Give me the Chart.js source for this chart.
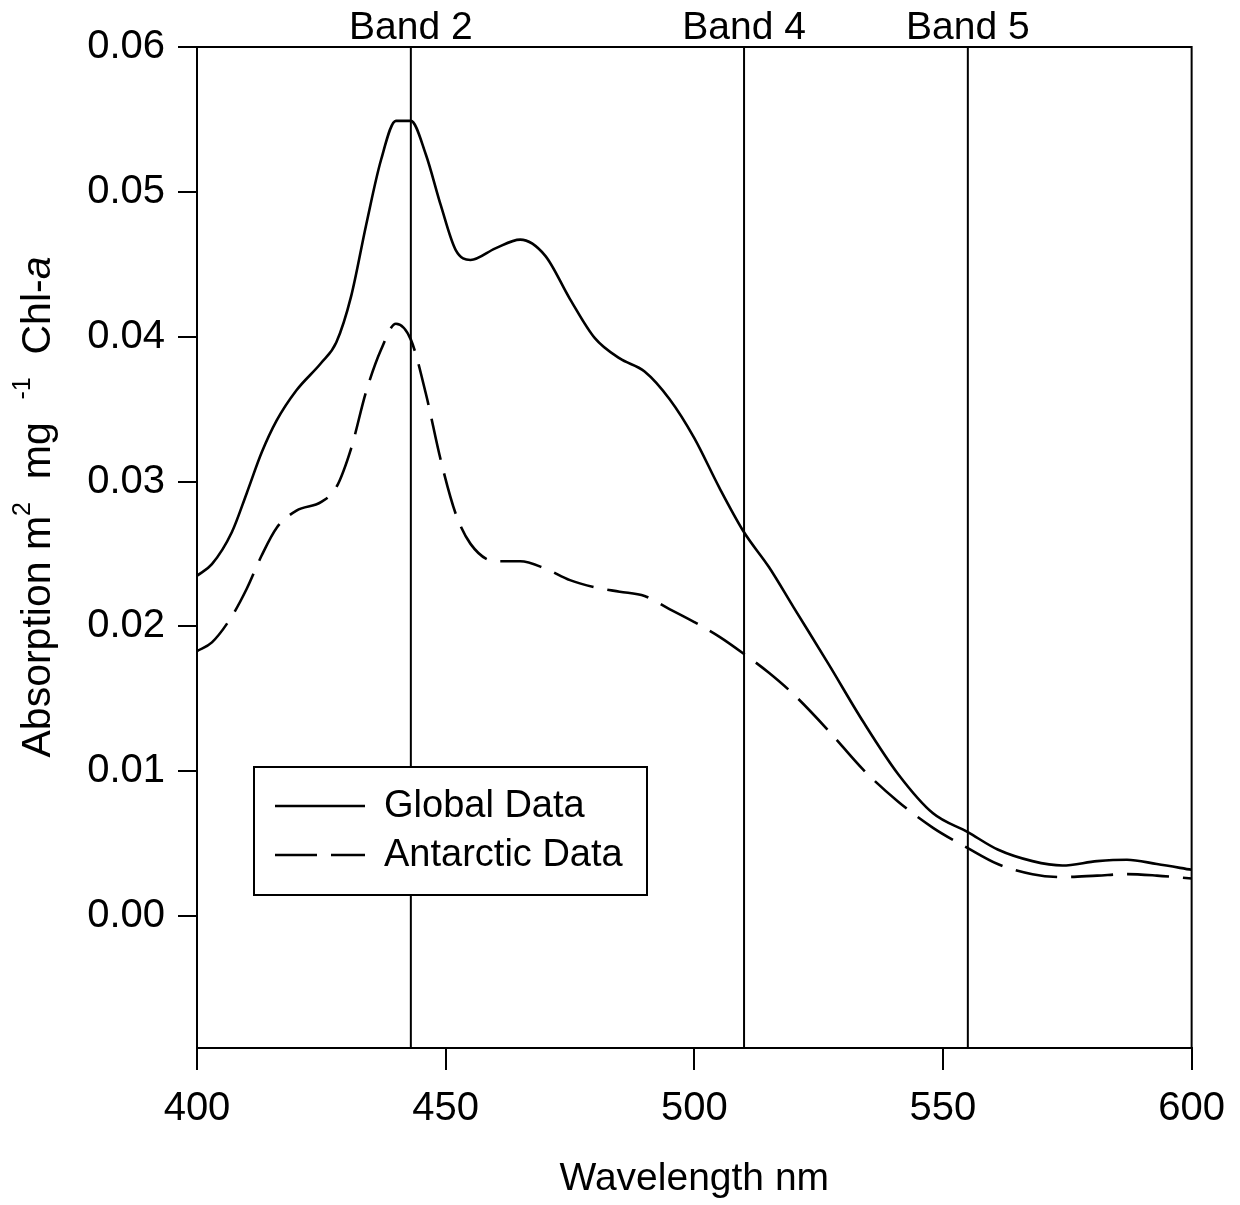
<!DOCTYPE html>
<html>
<head>
<meta charset="utf-8">
<script src="https://cdn.jsdelivr.net/npm/chart.js@4.4.1/dist/chart.umd.min.js"></script>
<style>
  html, body { margin: 0; padding: 0; background: #fff; }
  #wrap { width: 1240px; height: 1205px; position: relative; }
</style>
</head>
<body>
<div id="wrap"><canvas id="absChart"></canvas></div>
<script>
// Longitudes de onda (nm)
const wavelengths = [400, 403, 407, 410, 413, 416, 420, 425, 428, 431, 434, 437, 440, 443, 446, 449, 452, 455, 460, 465, 470, 475, 480, 485, 490, 495, 500, 505, 510, 515, 520, 527, 534, 541, 548, 555, 561, 568, 574, 581, 587, 593, 600];

// Absorción específica (m2 mg-1 Chl-a)
const globalData = [0.0235, 0.0243, 0.0265, 0.0292, 0.0320, 0.0342, 0.0363, 0.0382, 0.0396, 0.0428, 0.0477, 0.0522, 0.0549, 0.0549, 0.0526, 0.0491, 0.0460, 0.0453, 0.0461, 0.0467, 0.0456, 0.0426, 0.0399, 0.0385, 0.0376, 0.0357, 0.0330, 0.0296, 0.0265, 0.0241, 0.0213, 0.0174, 0.0134, 0.0098, 0.0071, 0.0058, 0.0046, 0.0038, 0.0035, 0.0038, 0.0039, 0.0036, 0.0032];
const antarcticData = [0.0183, 0.0189, 0.0207, 0.0226, 0.0249, 0.0268, 0.0280, 0.0286, 0.0296, 0.0323, 0.0362, 0.0391, 0.0409, 0.0398, 0.0361, 0.0315, 0.0278, 0.0257, 0.0245, 0.0245, 0.0240, 0.0232, 0.0227, 0.0224, 0.0221, 0.0212, 0.0203, 0.0193, 0.0181, 0.0168, 0.0153, 0.0128, 0.0101, 0.0079, 0.0061, 0.0047, 0.0036, 0.0029, 0.0027, 0.0028, 0.0029, 0.0028, 0.0026];

const seriesLabels = ['Global Data', 'Antarctic Data'];

// Bandas del sensor
const bandWavelengths = [443, 510, 555];
const bandLabels = ['Band 2', 'Band 4', 'Band 5'];

// Marcas de los ejes
const xTicks = [400, 450, 500, 550, 600];
const yTicks = [0.00, 0.01, 0.02, 0.03, 0.04, 0.05, 0.06];

const FONT = '"Liberation Sans", Arial, Helvetica, sans-serif';
const INK = '#000';
const FS = 39;

function toPoints(ys) {
    return wavelengths.map((w, i) => ({ x: w, y: ys[i] }));
}

// Líneas verticales de las bandas y marco superior/derecho
const bandsPlugin = {
    id: 'bands',
    beforeDatasetsDraw(chart) {
        const { ctx, chartArea, scales } = chart;
        ctx.save();
        ctx.strokeStyle = INK;
        ctx.lineWidth = 2;
        bandWavelengths.forEach((w, i) => {
            const x = scales.x.getPixelForValue(w);
            ctx.beginPath();
            ctx.moveTo(x, chartArea.top);
            ctx.lineTo(x, chartArea.bottom);
            ctx.stroke();
            ctx.fillStyle = INK;
            ctx.font = FS + 'px ' + FONT;
            ctx.textAlign = 'center';
            ctx.textBaseline = 'alphabetic';
            ctx.fillText(bandLabels[i], x, chartArea.top - 8);
        });
        // marco
        ctx.beginPath();
        ctx.moveTo(chartArea.left, chartArea.top);
        ctx.lineTo(chartArea.right, chartArea.top);
        ctx.lineTo(chartArea.right, chartArea.bottom);
        ctx.stroke();
        ctx.restore();
    }
};

// Título del eje Y con superíndices
const yTitlePlugin = {
    id: 'yTitle',
    afterDraw(chart) {
        const { ctx } = chart;
        const size = 41;
        const parts = [
            { t: 'Absorption m', style: 'normal' },
            { t: '2', style: 'sup' },
            { t: '  mg  ', style: 'normal' },
            { t: '-1', style: 'sup' },
            { t: '  Chl-', style: 'normal' },
            { t: 'a', style: 'italic' }
        ];
        const fontFor = p => {
            if (p.style === 'sup') return Math.round(size * 0.6) + 'px ' + FONT;
            if (p.style === 'italic') return 'italic ' + size + 'px ' + FONT;
            return size + 'px ' + FONT;
        };
        ctx.save();
        let total = 0;
        parts.forEach(p => { ctx.font = fontFor(p); p.w = ctx.measureText(p.t).width; total += p.w; });
        ctx.translate(39, 507);
        ctx.rotate(-Math.PI / 2);
        ctx.fillStyle = INK;
        ctx.textBaseline = 'middle';
        ctx.textAlign = 'left';
        let x = -total / 2;
        parts.forEach(p => {
            ctx.font = fontFor(p);
            ctx.fillText(p.t, x, p.style === 'sup' ? -16 : 0);
            x += p.w;
        });
        ctx.restore();
    }
};

// Leyenda dentro del área del gráfico
const legendBoxPlugin = {
    id: 'legendBox',
    afterDraw(chart) {
        const { ctx, chartArea } = chart;
        const left = chartArea.left + 57;
        const top = chartArea.top + 720;
        const w = 393, h = 128;
        ctx.save();
        ctx.fillStyle = '#fff';
        ctx.fillRect(left, top, w, h);
        ctx.strokeStyle = INK;
        ctx.lineWidth = 2;
        ctx.strokeRect(left, top, w, h);
        chart.data.datasets.forEach((ds, i) => {
            const y = top + 39 + i * 49;
            ctx.beginPath();
            ctx.setLineDash(ds.borderDash || []);
            ctx.lineWidth = 2.5;
            ctx.moveTo(left + 21, y);
            ctx.lineTo(left + 111, y);
            ctx.stroke();
            ctx.setLineDash([]);
            ctx.fillStyle = INK;
            ctx.font = (FS - 1) + 'px ' + FONT;
            ctx.textAlign = 'left';
            ctx.textBaseline = 'middle';
            ctx.fillText(ds.label, left + 130, y + 1);
        });
        ctx.restore();
    }
};

const ctx = document.getElementById('absChart').getContext('2d');
new Chart(ctx, {
    type: 'line',
    data: {
        datasets: [{
            label: seriesLabels[0],
            data: toPoints(globalData),
            borderColor: INK,
            borderWidth: 2.6,
            pointRadius: 0,
            cubicInterpolationMode: 'monotone'
        },
        {
            label: seriesLabels[1],
            data: toPoints(antarcticData),
            borderColor: INK,
            borderWidth: 2.6,
            borderDash: [42, 14],
            pointRadius: 0,
            cubicInterpolationMode: 'monotone'
        }]
    },
    options: {
        responsive: true,
        maintainAspectRatio: false,
        animation: false,
        layout: { padding: { top: 47, right: 47, left: 0, bottom: 0 } },
        plugins: {
            legend: { display: false },
            tooltip: { enabled: false }
        },
        scales: {
            x: {
                type: 'linear',
                min: 400,
                max: 600,
                afterBuildTicks: axis => { axis.ticks = xTicks.map(v => ({ value: v })); },
                afterFit: axis => { axis.height = 157; },
                grid: { drawOnChartArea: false, tickLength: 22, color: INK, lineWidth: 2 },
                border: { color: INK, width: 2 },
                ticks: { color: INK, font: { family: FONT, size: 40 }, padding: 15, maxRotation: 0 },
                title: {
                    display: true,
                    text: 'Wavelength nm',
                    color: INK,
                    font: { family: FONT, size: FS, lineHeight: 1.2 },
                    padding: { top: 0, bottom: 2 }
                }
            },
            y: {
                min: -0.0091,
                max: 0.06,
                afterBuildTicks: axis => { axis.ticks = yTicks.map(v => ({ value: v })); },
                afterFit: axis => { axis.width = 197; },
                grid: { drawOnChartArea: false, tickLength: 19, color: INK, lineWidth: 2 },
                border: { color: INK, width: 2 },
                ticks: {
                    color: INK,
                    font: { family: FONT, size: 40 },
                    padding: 13,
                    callback: v => v.toFixed(2)
                }
            }
        }
    },
    plugins: [bandsPlugin, yTitlePlugin, legendBoxPlugin]
});
</script>
</body>
</html>
